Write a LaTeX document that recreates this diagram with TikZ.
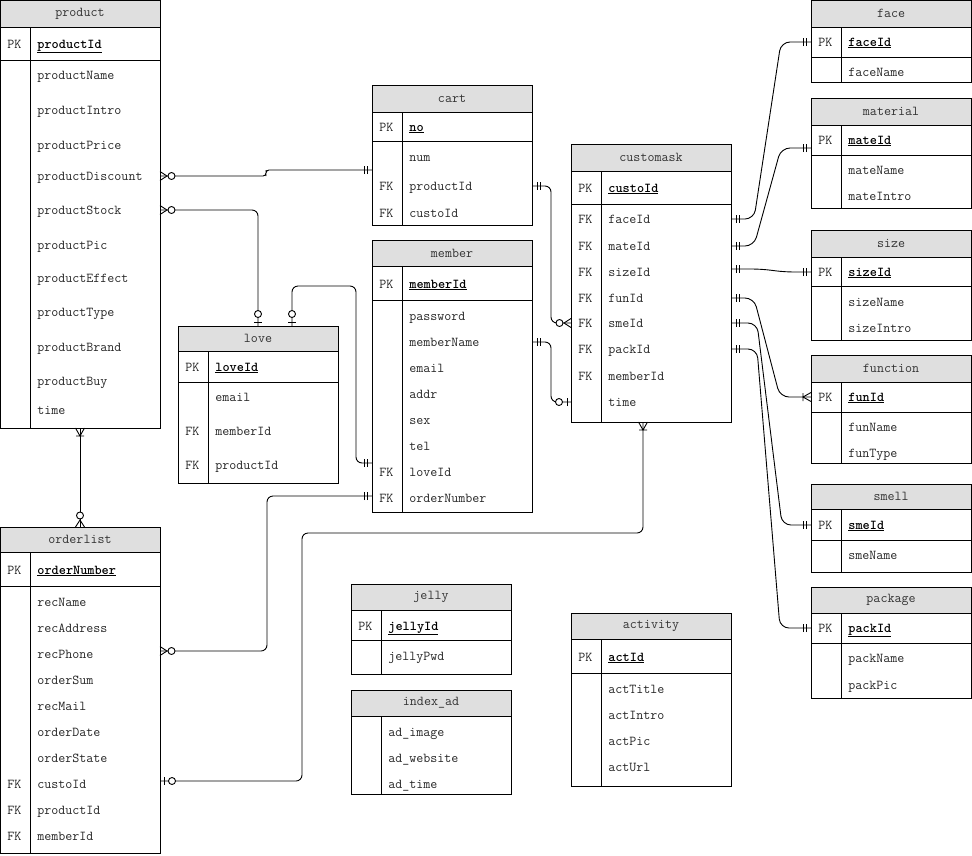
\documentclass[tikz,border=0pt]{standalone}
\usetikzlibrary{calc}
\colorlet{hdrgray}{gray!25}

\newcommand{\ertable}[7]{%
	\node[tbl,minimum height={(#6-#3)*1pt}] (#1) at (#2,#3) {};
	\draw[fill=hdrgray] (#2,#3) rectangle ++(160,#4-#3);
	\node[tblname] (#1-title) at (#2+80,{(#3+#4)/2}) {#7};
	\draw (#2,#5) -- ++(160,0) (#2+30,#4) -- (#2+30,#6);
}

\begin{document}
\begin{tikzpicture}[x=1pt,y=-1pt,line width=0.9pt]
	\tikzset{tbl/.style={draw,anchor=north west,minimum width=160pt,inner sep=0pt,outer sep=0pt}}
	\tikzset{tblname/.style={text=black!80,font=\fontsize{13.6}{16}\selectfont\ttfamily}}
	\tikzset{attr/.style={anchor=west,inner sep=0pt,text height=8pt,text depth=0pt,text=black!85,font=\fontsize{13.6}{16}\selectfont\ttfamily}}
	\tikzset{pkey/.style={attr,text=black,font=\fontsize{13.6}{16}\selectfont\ttfamily\bfseries}}
	\tikzset{link/.style={rounded corners=6pt}}
	\tikzset{slant/.style={rounded corners=9pt}}
	\tikzset{onlyone/.pic={\draw (5,-4) -- (5,4) (8,-4) -- (8,4);}}
	\tikzset{zeroone/.pic={\draw (4,-4) -- (4,4); \draw[fill=white] (12,0) circle (3.5);}}
	\tikzset{zeromany/.pic={\draw (0,-4.5) -- (7,0) -- (0,4.5); \draw[fill=white] (11.5,0) circle (3.5);}}
	\tikzset{onemany/.pic={\draw (0,-4.5) -- (8,0) -- (0,4.5) (8,-4) -- (8,4);}}
	\useasboundingbox (0,0) rectangle (972,855);

	\ertable{product}{0}{0}{27}{60}{428}{product}
	\node[attr] (product-pk) at (7,44) {PK};
	\node[pkey] (product-id) at (37,44) {\underline{productId}};
	\foreach \n/\y in {productName/75,productIntro/110,productPrice/145,productDiscount/176,productStock/210,productPic/245,productEffect/278,productType/312,productBrand/347,productBuy/381,time/410}
		\node[attr] (product-\n) at (37,\y) {\n};

	\ertable{cart}{372}{85}{112}{141}{225}{cart}
	\node[attr] (cart-pk) at (379,127) {PK};
	\node[pkey] (cart-id) at (409,127) {\underline{no}};
	\foreach \n/\y in {num/157,productId/186,custoId/213}
		\node[attr] (cart-\n) at (409,\y) {\n};
	\foreach \n/\y in {productId/186,custoId/213}
		\node[attr] (cart-fk-\n) at (379,\y) {FK};

	\ertable{member}{372}{240}{266}{300}{512}{member}
	\node[attr] (member-pk) at (379,284) {PK};
	\node[pkey] (member-id) at (409,284) {\underline{memberId}};
	\foreach \n/\y in {password/316,memberName/342,email/368,addr/394,sex/420,tel/446,loveId/472,orderNumber/498}
		\node[attr] (member-\n) at (409,\y) {\n};
	\foreach \n/\y in {loveId/472,orderNumber/498}
		\node[attr] (member-fk-\n) at (379,\y) {FK};

	\ertable{love}{178}{326}{351}{382}{483}{love}
	\node[attr] (love-pk) at (185,367) {PK};
	\node[pkey] (love-id) at (215,367) {\underline{loveId}};
	\foreach \n/\y in {email/397,memberId/431,productId/465}
		\node[attr] (love-\n) at (215,\y) {\n};
	\foreach \n/\y in {memberId/431,productId/465}
		\node[attr] (love-fk-\n) at (185,\y) {FK};

	\ertable{customask}{571}{144}{171}{204}{422}{customask}
	\node[attr] (customask-pk) at (578,188) {PK};
	\node[pkey] (customask-id) at (608,188) {\underline{custoId}};
	\foreach \n/\y in {faceId/219,mateId/246,sizeId/272,funId/298,smeId/323,packId/349,memberId/376,time/402}
		\node[attr] (customask-\n) at (608,\y) {\n};
	\foreach \n/\y in {faceId/219,mateId/246,sizeId/272,funId/298,smeId/323,packId/349,memberId/376}
		\node[attr] (customask-fk-\n) at (578,\y) {FK};

	\ertable{face}{811}{0}{27}{57}{82}{face}
	\node[attr] (face-pk) at (818,42) {PK};
	\node[pkey] (face-id) at (848,42) {\underline{faceId}};
	\node[attr] (face-faceName) at (848,72) {faceName};

	\ertable{material}{811}{98}{125}{155}{208}{material}
	\node[attr] (material-pk) at (818,140) {PK};
	\node[pkey] (material-id) at (848,140) {\underline{mateId}};
	\node[attr] (material-mateName) at (848,170) {mateName};
	\node[attr] (material-mateIntro) at (848,196) {mateIntro};

	\ertable{size}{811}{230}{257}{286}{340}{size}
	\node[attr] (size-pk) at (818,272) {PK};
	\node[pkey] (size-id) at (848,272) {\underline{sizeId}};
	\node[attr] (size-sizeName) at (848,302) {sizeName};
	\node[attr] (size-sizeIntro) at (848,328) {sizeIntro};

	\ertable{function}{811}{355}{382}{412}{463}{function}
	\node[attr] (function-pk) at (818,397) {PK};
	\node[pkey] (function-id) at (848,397) {\underline{funId}};
	\node[attr] (function-funName) at (848,427) {funName};
	\node[attr] (function-funType) at (848,453) {funType};

	\ertable{smell}{811}{484}{509}{540}{572}{smell}
	\node[attr] (smell-pk) at (818,525) {PK};
	\node[pkey] (smell-id) at (848,525) {\underline{smeId}};
	\node[attr] (smell-smeName) at (848,555) {smeName};

	\ertable{package}{811}{587}{613}{643}{698}{package}
	\node[attr] (package-pk) at (818,628) {PK};
	\node[pkey] (package-id) at (848,628) {\underline{packId}};
	\node[attr] (package-packName) at (848,658) {packName};
	\node[attr] (package-packPic) at (848,685) {packPic};

	\ertable{orderlist}{0}{527}{552}{586}{853}{orderlist}
	\node[attr] (orderlist-pk) at (7,570) {PK};
	\node[pkey] (orderlist-id) at (37,570) {\underline{orderNumber}};
	\foreach \n/\y in {recName/602,recAddress/628,recPhone/654,orderSum/680,recMail/706,orderDate/732,orderState/758,custoId/784,productId/810,memberId/836}
		\node[attr] (orderlist-\n) at (37,\y) {\n};
	\foreach \n/\y in {custoId/784,productId/810,memberId/836}
		\node[attr] (orderlist-fk-\n) at (7,\y) {FK};

	\ertable{jelly}{351}{584}{610}{640}{674}{jelly}
	\node[attr] (jelly-pk) at (358,626) {PK};
	\node[pkey] (jelly-id) at (388,626) {\underline{jellyId}};
	\node[attr] (jelly-jellyPwd) at (388,656) {jellyPwd};

	\ertable{indexad}{351}{690}{716}{716}{794}{index\_ad}
	\node[attr] (indexad-image) at (388,732) {ad\_image};
	\node[attr] (indexad-website) at (388,758) {ad\_website};
	\node[attr] (indexad-time) at (388,784) {ad\_time};

	\ertable{activity}{571}{613}{639}{673}{786}{activity}
	\node[attr] (activity-pk) at (578,657) {PK};
	\node[pkey] (activity-id) at (608,657) {\underline{actId}};
	\foreach \n/\y in {actTitle/689,actIntro/715,actPic/741,actUrl/767}
		\node[attr] (activity-\n) at (608,\y) {\n};

	\draw[link,rounded corners=3pt] (product.east |- product-productDiscount) -| (266,173) |- ($(cart.west |- cart-num)+(0,13)$);
	\draw[link] (product.east |- product-productStock) -| (love.north);
	\draw[link] ($(love.north)+(34,0)$) |- (356,286) |- ($(member.west |- member-loveId)+(0,-9)$);
	\draw[link] ($(member.west |- member-orderNumber)+(0,-2)$) -| (267,560) |- ($(orderlist.east |- orderlist-recPhone)+(0,-3)$);
	\draw[link] ($(orderlist.east |- orderlist-custoId)+(0,-3)$) -| (302,533) -| ($(customask.south)+(-8,0)$);
	\draw (product.south) -- (orderlist.north);
	\draw[link] (cart.east |- cart-productId) -| (551,250) |- (customask.west |- customask-smeId);
	\draw[link] (member.east |- member-memberName) -| (551,370) |- (customask.west |- customask-time);
	\draw[slant] (customask.east |- customask-faceId) -- ++(23,0) -- (781,42) -- (face.west |- face-pk);
	\draw[slant] (customask.east |- customask-mateId) -- ++(23,0) -- (781,148) -- ($(material.west |- material-pk)+(0,8)$);
	\draw[slant] ($(customask.east |- customask-sizeId)+(0,-3)$) -- ++(30,0) -- (785,272) -- (size.west |- size-pk);
	\draw[slant] (customask.east |- customask-funId) -- ++(23,0) -- (780,397) -- (function.west |- function-pk);
	\draw[slant] (customask.east |- customask-smeId) -- ++(26,0) -- (782,525) -- (smell.west |- smell-pk);
	\draw[slant] (customask.east |- customask-packId) -- ++(26,0) -- (780,628) -- (package.west |- package-pk);

	\pic at (product.east |- product-productDiscount) {zeromany};
	\pic[rotate=180] at ($(cart.west |- cart-num)+(0,13)$) {onlyone};
	\pic at (product.east |- product-productStock) {zeromany};
	\pic[rotate=90] at (love.north) {zeroone};
	\pic[rotate=90] at ($(love.north)+(34,0)$) {zeroone};
	\pic[rotate=180] at ($(member.west |- member-loveId)+(0,-9)$) {onlyone};
	\pic[rotate=180] at ($(member.west |- member-orderNumber)+(0,-2)$) {onlyone};
	\pic at ($(orderlist.east |- orderlist-recPhone)+(0,-3)$) {zeromany};
	\pic at ($(orderlist.east |- orderlist-custoId)+(0,-3)$) {zeroone};
	\pic[rotate=-90] at ($(customask.south)+(-8,0)$) {onemany};
	\pic[rotate=-90] at (product.south) {onemany};
	\pic[rotate=90] at (orderlist.north) {zeromany};
	\pic at (cart.east |- cart-productId) {onlyone};
	\pic[rotate=180] at (customask.west |- customask-smeId) {zeromany};
	\pic at (member.east |- member-memberName) {onlyone};
	\pic[rotate=180] at (customask.west |- customask-time) {zeroone};
	\foreach \n in {faceId,mateId,funId,smeId,packId}
		\pic at (customask.east |- customask-\n) {onlyone};
	\pic at ($(customask.east |- customask-sizeId)+(0,-3)$) {onlyone};
	\pic[rotate=180] at (face.west |- face-pk) {onlyone};
	\pic[rotate=180] at ($(material.west |- material-pk)+(0,8)$) {onlyone};
	\pic[rotate=180] at (size.west |- size-pk) {onlyone};
	\pic[rotate=180] at (function.west |- function-pk) {onemany};
	\pic[rotate=180] at (smell.west |- smell-pk) {onlyone};
	\pic[rotate=180] at (package.west |- package-pk) {onlyone};
\end{tikzpicture}
\end{document}
